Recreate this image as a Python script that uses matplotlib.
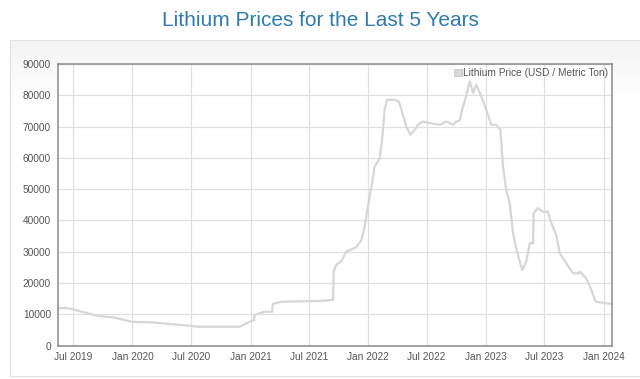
# plot.py
# 锂价格近5年走势图

import matplotlib.pyplot as plt
import matplotlib.dates as mdates
import matplotlib.patches as mpatches
import numpy as np
import pandas as pd

plt.rcParams['font.family'] = ['Liberation Sans', 'DejaVu Sans']

# -----------------数据
dates = [
    '2019-05-15', '2019-06-10', '2019-06-28', '2019-09-16', '2019-11-07',
    '2019-12-28', '2020-02-29', '2020-06-21', '2020-07-22', '2020-11-29',
    '2020-12-19', '2021-01-12', '2021-01-14', '2021-01-30', '2021-02-14',
    '2021-03-09', '2021-03-11', '2021-04-07', '2021-08-04', '2021-09-14',
    '2021-09-16', '2021-09-24', '2021-10-10', '2021-10-25', '2021-11-25',
    '2021-12-11', '2021-12-21', '2021-12-31', '2022-01-11', '2022-01-21',
    '2022-02-06', '2022-02-14', '2022-02-21', '2022-02-28', '2022-03-24',
    '2022-04-06', '2022-04-14', '2022-04-29', '2022-05-12', '2022-05-25',
    '2022-06-04', '2022-06-20', '2022-07-11', '2022-08-11', '2022-08-31',
    '2022-09-21', '2022-10-01', '2022-10-12', '2022-10-18', '2022-10-27',
    '2022-11-12', '2022-11-22', '2022-12-02', '2022-12-18', '2023-01-02',
    '2023-01-18', '2023-02-02', '2023-02-15', '2023-02-23', '2023-03-05',
    '2023-03-16', '2023-03-26', '2023-04-05', '2023-04-16', '2023-04-24',
    '2023-05-06', '2023-05-17', '2023-05-27', '2023-05-29', '2023-06-11',
    '2023-06-27', '2023-07-12', '2023-07-23', '2023-08-07', '2023-08-18',
    '2023-09-07', '2023-09-28', '2023-10-13', '2023-10-19', '2023-11-08',
    '2023-11-24', '2023-12-07', '2024-01-09', '2024-01-26',
]
prices = [
    11900, 12000, 11600, 9440, 8900,
    7600, 7400, 6350, 6000, 6000,
    7100, 8150, 9760, 10300, 10800,
    10800, 13300, 14000, 14240, 14560,
    23600, 25800, 27000, 30000, 31400,
    33760, 38000, 44400, 50800, 57200,
    59900, 66800, 75360, 78560, 78560,
    78000, 75360, 70000, 67360, 68960,
    70560, 71600, 71100, 70560, 71600,
    70560, 71600, 72000, 75000, 78000,
    84400, 80700, 83360, 79600, 75360,
    70560, 70560, 68960, 57200, 49760,
    45500, 35900, 31100, 26800, 24160,
    26800, 32700, 32700, 42300, 43900,
    42800, 42800, 39100, 35360, 29500,
    26300, 23100, 23100, 23600, 21500,
    17760, 14000, 13500, 13300,
]
tick_dates = ['2019-07-01', '2020-01-01', '2020-07-01', '2021-01-01', '2021-07-01',
              '2022-01-01', '2022-07-01', '2023-01-01', '2023-07-01', '2024-01-01']
y_ticks = list(range(0, 90001, 10000))

TEXT_COLOR = '#555555'
LINE_COLOR = '#d6d6d6'

# -----------------绘图
fig = plt.figure(figsize=(6.4, 3.79), dpi=100, facecolor='white')

# 背景面板（顶部带浅灰渐变）
bg = fig.add_axes([10 / 640, 3 / 379, 640 / 640, 336 / 379], zorder=0)
grad = np.concatenate([np.linspace(0.955, 1.0, 60), np.ones(280)])
img = np.repeat(grad[:, None, None], 3, axis=2).repeat(4, axis=1)
bg.imshow(img, aspect='auto', extent=[0, 1, 0, 1], origin='upper')
bg.set_xlim(0, 1)
bg.set_ylim(0, 1)
for s in bg.spines.values():
    s.set_color('#e2e2e2')
bg.set_xticks([])
bg.set_yticks([])

ax = fig.add_axes([58 / 640, 33.5 / 379, 554 / 640, 281.5 / 379], zorder=1)
ax.set_facecolor('white')
x = pd.to_datetime(dates)
ax.plot(x, prices, color=LINE_COLOR, linewidth=1.6, solid_joinstyle='round')

ax.set_xlim(pd.Timestamp('2019-05-15'), pd.Timestamp('2024-01-27'))
ax.set_ylim(0, 90000)
ax.set_xticks(pd.to_datetime(tick_dates))
ax.xaxis.set_major_formatter(mdates.DateFormatter('%b %Y'))
ax.set_yticks(y_ticks)
ax.grid(True, color='#e0e0e0', linewidth=0.9)
ax.set_axisbelow(True)
ax.tick_params(length=0, labelsize=7.3, colors=TEXT_COLOR, pad=5)
for s in ax.spines.values():
    s.set_color('#8a8a8a')
    s.set_linewidth(1.1)

handle = mpatches.Patch(facecolor='#d9d9d9', edgecolor='#c4c4c4', linewidth=0.6)
leg = ax.legend([handle], ['Lithium Price (USD / Metric Ton)'], loc='upper right',
                frameon=False, fontsize=7.3, handlelength=0.8, handleheight=0.8,
                handletextpad=0.1, borderaxespad=0.2, borderpad=0.2)
for t in leg.get_texts():
    t.set_color(TEXT_COLOR)

fig.text(0.5, 1 - 20 / 379, 'Lithium Prices for the Last 5 Years', ha='center', va='center',
         fontsize=15, color='#2d7bb0')

fig.savefig('out.png', dpi=100)
